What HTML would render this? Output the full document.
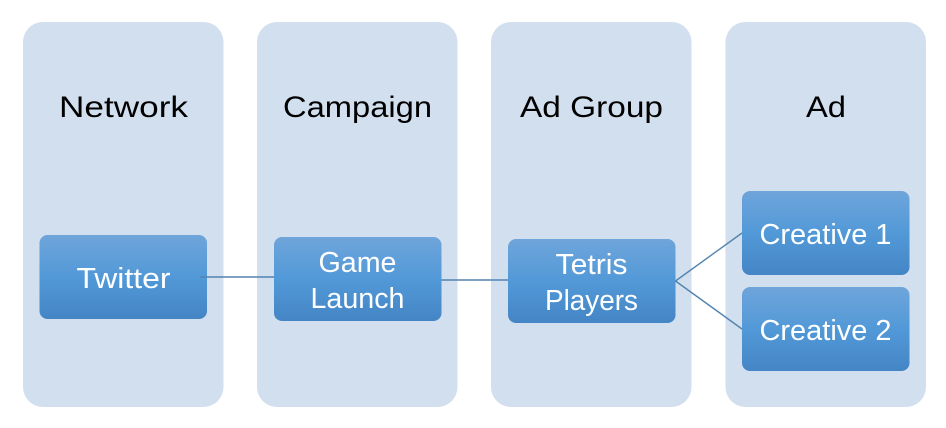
<!DOCTYPE html>
<html>
<head>
<meta charset="utf-8">
<style>
html,body{margin:0;padding:0;background:#fff;width:946px;height:428px;overflow:hidden}
svg{display:block}
text{font-family:"Liberation Sans",sans-serif;text-anchor:middle}
.h{font-size:29.500px;fill:#000}
.t{font-size:29px;fill:#fff}
</style>
</head>
<body>
<svg width="946" height="428" viewBox="0 0 946 428" xmlns="http://www.w3.org/2000/svg">
<defs>
<linearGradient id="g" x1="0" y1="0" x2="0" y2="1">
<stop offset="0" stop-color="#6fa5da"/>
<stop offset="0.5" stop-color="#5299d8"/>
<stop offset="1" stop-color="#4485c5"/>
</linearGradient>
</defs>
<g fill="#d2dfee">
<rect x="23" y="22" width="200.500" height="385" rx="20"/>
<rect x="257" y="22" width="200.500" height="385" rx="20"/>
<rect x="491" y="22" width="200.500" height="385" rx="20"/>
<rect x="725.500" y="22" width="200.500" height="385" rx="20"/>
</g>
<text class="h" x="123.500" y="117" textLength="129" lengthAdjust="spacingAndGlyphs">Network</text>
<text class="h" x="357.500" y="117" textLength="149" lengthAdjust="spacingAndGlyphs">Campaign</text>
<text class="h" x="591.500" y="117" textLength="143" lengthAdjust="spacingAndGlyphs">Ad Group</text>
<text class="h" x="826" y="117" textLength="40" lengthAdjust="spacingAndGlyphs">Ad</text>
<g fill="url(#g)">
<rect x="39.500" y="235" width="167.500" height="84" rx="8"/>
<rect x="274" y="237" width="167.500" height="84" rx="8"/>
<rect x="508" y="239" width="167.500" height="84" rx="8"/>
<rect x="742" y="191" width="167.500" height="84" rx="8"/>
<rect x="742" y="287" width="167.500" height="84" rx="8"/>
</g>
<g stroke="#5384b0" stroke-width="1.400" fill="none">
<line x1="200" y1="277" x2="274" y2="277"/>
<line x1="441.500" y1="280" x2="508" y2="280"/>
<line x1="675.500" y1="281" x2="742" y2="233"/>
<line x1="675.500" y1="281" x2="742" y2="329"/>
</g>
<text class="t" x="123.500" y="288" textLength="94" lengthAdjust="spacingAndGlyphs">Twitter</text>
<text class="t" x="357.500" y="272" textLength="78" lengthAdjust="spacingAndGlyphs">Game</text>
<text class="t" x="357.500" y="308" textLength="94" lengthAdjust="spacingAndGlyphs">Launch</text>
<text class="t" x="591.500" y="274" textLength="72" lengthAdjust="spacingAndGlyphs">Tetris</text>
<text class="t" x="591.500" y="310" textLength="93" lengthAdjust="spacingAndGlyphs">Players</text>
<text class="t" x="825.500" y="244" textLength="132" lengthAdjust="spacingAndGlyphs">Creative 1</text>
<text class="t" x="825.500" y="340" textLength="132" lengthAdjust="spacingAndGlyphs">Creative 2</text>
</svg>
</body>
</html>
